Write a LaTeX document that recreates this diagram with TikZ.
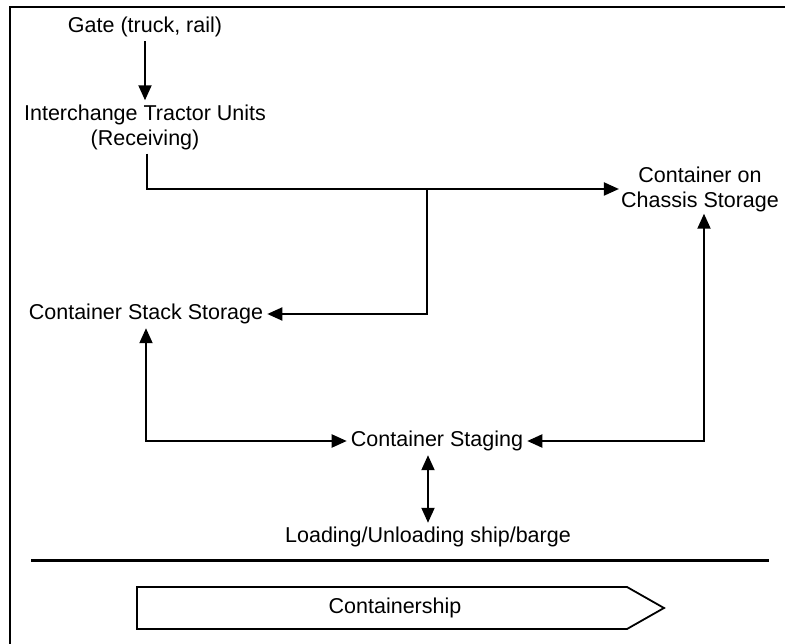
\documentclass[tikz,border=0pt]{standalone}
\usepackage{fontspec}
\setmainfont{Liberation Sans}
\usetikzlibrary{arrows.meta}

\tikzset{
  lbl/.style={inner sep=4pt, align=center, font=\fontsize{21.5}{25}\selectfont},
  link/.style={line width=2pt, -{Triangle[length=15pt,width=13pt]}},
  twoway/.style={line width=2pt, {Triangle[length=15pt,width=13pt]}-{Triangle[length=15pt,width=13pt]}}
}

\begin{document}
\begin{tikzpicture}[x=1pt,y=-1pt]
    \useasboundingbox (0,0) rectangle (785,644);
    % frame and water line
    \draw[line width=1.4pt] (10,644) -- (10,7) -- (785,7);
    \draw[line width=3pt] (31,560) -- (769,560);

    \node[lbl] (gate) at (145,27) {Gate (truck, rail)};
    \node[lbl] (itu) at (145,127) {Interchange Tractor Units\\(Receiving)};
    \node[lbl, inner sep=2pt] (chassis) at (700,189) {Container on\\Chassis Storage};
    \node[lbl] (stack) at (146,314) {Container Stack Storage};
    \node[lbl] (staging) at (437,441) {Container Staging};
    \node[lbl] (loading) at (428,537) {Loading/Unloading ship/barge};
    \coordinate (jn) at (427,189);

    \draw[link] (gate) -- (itu);
    \draw[link] ([xshift=2pt]itu.south) |- (chassis.west);
    \draw[link] (jn) |- (stack.east);
    \draw[twoway] (stack.south) |- (staging.west);
    \draw[twoway] ([xshift=4pt]chassis.south) |- (staging.east);
    \draw[twoway] (loading.north |- staging.south) -- (loading.north);

    % ship
    \draw[line width=1.8pt] (137,587) -- (627,587) -- (664,608) -- (627,629) -- (137,629) -- cycle;
    \node[lbl] (ship) at (395,608) {Containership};
\end{tikzpicture}
\end{document}
